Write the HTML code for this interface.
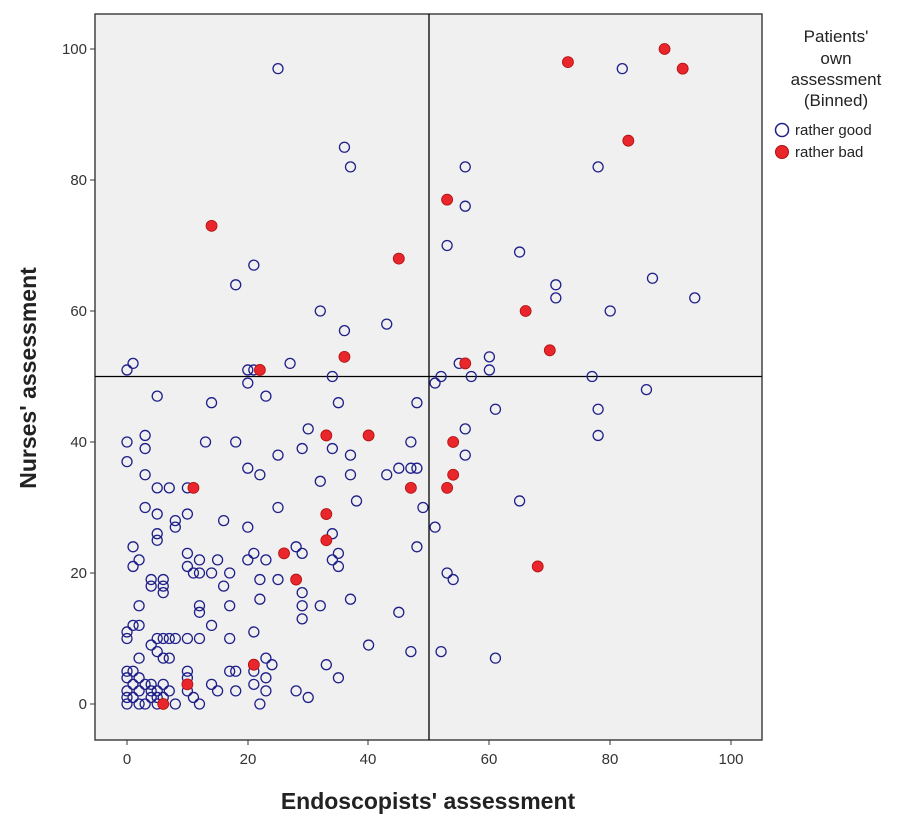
<!DOCTYPE html>
<html><head><meta charset="utf-8"><style>
body{margin:0;background:#fff;}
svg{display:block;font-family:"Liberation Sans",sans-serif;}
</style></head><body>
<svg id="s" width="910" height="825" xmlns="http://www.w3.org/2000/svg">
<rect x="95" y="14" width="667" height="726" fill="#f0f0f0" stroke="#444" stroke-width="1.5"/>
<line x1="429" y1="14" x2="429" y2="740" stroke="#000" stroke-width="1.3"/>
<line x1="95" y1="376.5" x2="762" y2="376.5" stroke="#000" stroke-width="1.3"/>
<g font-size="15" fill="#333" text-anchor="end">
<text x="87" y="54">100</text><text x="87" y="185">80</text><text x="87" y="316">60</text>
<text x="87" y="447">40</text><text x="87" y="578">20</text><text x="87" y="709">0</text>
</g>
<g stroke="#333"><line x1="90" y1="49" x2="95" y2="49"/><line x1="90" y1="180" x2="95" y2="180"/><line x1="90" y1="311" x2="95" y2="311"/><line x1="90" y1="442" x2="95" y2="442"/><line x1="90" y1="573" x2="95" y2="573"/><line x1="90" y1="704" x2="95" y2="704"/>
<line x1="127" y1="740" x2="127" y2="745"/><line x1="248" y1="740" x2="248" y2="745"/><line x1="368" y1="740" x2="368" y2="745"/><line x1="489" y1="740" x2="489" y2="745"/><line x1="610" y1="740" x2="610" y2="745"/><line x1="731" y1="740" x2="731" y2="745"/></g>
<g font-size="15" fill="#333" text-anchor="middle">
<text x="127" y="764">0</text><text x="248" y="764">20</text><text x="368" y="764">40</text>
<text x="489" y="764">60</text><text x="610" y="764">80</text><text x="731" y="764">100</text>
</g>
<text x="428" y="809" font-size="23" font-weight="bold" fill="#222" text-anchor="middle">Endoscopists' assessment</text>
<text transform="translate(36,378) rotate(-90)" font-size="23" font-weight="bold" fill="#222" text-anchor="middle">Nurses' assessment</text>
<g font-size="17" fill="#222" text-anchor="middle">
<text x="836" y="42">Patients'</text><text x="836" y="64">own</text><text x="836" y="85">assessment</text><text x="836" y="106">(Binned)</text>
</g>
<circle cx="782" cy="130" r="6.5" fill="none" stroke="#1f1f8a" stroke-width="1.5"/>
<circle cx="782" cy="152" r="6.5" fill="#e8262b" stroke="#b01010" stroke-width="1"/>
<g font-size="15" fill="#222"><text x="795" y="135">rather good</text><text x="795" y="157">rather bad</text></g>
<g id="pts"></g>
</svg>
<script>
var blue=[[25,97],[82,97],[36,85],[37,82],[56,82],[78,82],[56,76],[53,70],[65,69],[21,67],[18,64],[87,65],[71,64],[71,62],[94,62],[80,60],[32,60],[43,58],[36,57],[1,52],[0,51],[27,52],[20,51],[21,51],[55,52],[60,53],[60,51],[52,50],[57,50],[51,49],[77,50],[34,50],[20,49],[86,48],[5,47],[23,47],[14,46],[35,46],[48,46],[78,45],[61,45],[30,42],[56,42],[3,41],[78,41],[0,40],[13,40],[18,40],[47,40],[3,39],[34,39],[29,39],[25,38],[37,38],[56,38],[0,37],[20,36],[45,36],[47,36],[48,36],[3,35],[22,35],[43,35],[37,35],[32,34],[5,33],[7,33],[10,33],[38,31],[65,31],[25,30],[3,30],[49,30],[5,29],[10,29],[8,28],[8,27],[16,28],[20,27],[51,27],[34,26],[5,26],[5,25],[48,24],[1,24],[28,24],[2,22],[12,22],[15,22],[10,23],[21,23],[29,23],[35,23],[1,21],[10,21],[20,22],[23,22],[34,22],[35,21],[11,20],[12,20],[14,20],[17,20],[53,20],[54,19],[4,19],[4,18],[6,19],[6,18],[6,17],[16,18],[22,19],[25,19],[37,16],[22,16],[29,17],[2,15],[12,15],[12,14],[17,15],[29,15],[32,15],[45,14],[29,13],[0,11],[1,12],[2,12],[0,10],[14,12],[10,10],[17,10],[21,11],[5,10],[6,10],[7,10],[8,10],[12,10],[4,9],[5,8],[40,9],[47,8],[52,8],[2,7],[6,7],[7,7],[17,5],[18,5],[23,7],[24,6],[33,6],[61,7],[0,5],[0,4],[1,5],[2,4],[3,3],[10,5],[10,4],[21,5],[23,4],[1,3],[4,3],[6,3],[14,3],[0,2],[2,2],[4,2],[5,2],[7,2],[10,2],[15,2],[18,2],[21,3],[23,2],[28,2],[30,1],[35,4],[0,1],[1,1],[4,1],[5,1],[6,1],[11,1],[0,0],[2,0],[3,0],[5,0],[8,0],[12,0],[22,0]];
var red=[[89,100],[73,98],[92,97],[83,86],[53,77],[14,73],[45,68],[66,60],[70,54],[36,53],[22,51],[56,52],[33,41],[40,41],[54,40],[54,35],[47,33],[53,33],[11,33],[33,29],[33,25],[26,23],[28,19],[68,21],[21,6],[10,3],[6,0]];
var g=document.getElementById('pts'),h='';
function X(v){return 127+v*6.04}function Y(v){return 704-v*6.55}
blue.forEach(function(p){h+='<circle cx="'+X(p[0])+'" cy="'+Y(p[1])+'" r="5" fill="none" stroke="#1f1f8a" stroke-width="1.3"/>';});
red.forEach(function(p){h+='<circle cx="'+X(p[0])+'" cy="'+Y(p[1])+'" r="5.5" fill="#e8262b" stroke="#b01010" stroke-width="0.8"/>';});
g.innerHTML=h;
</script>
</body></html>
